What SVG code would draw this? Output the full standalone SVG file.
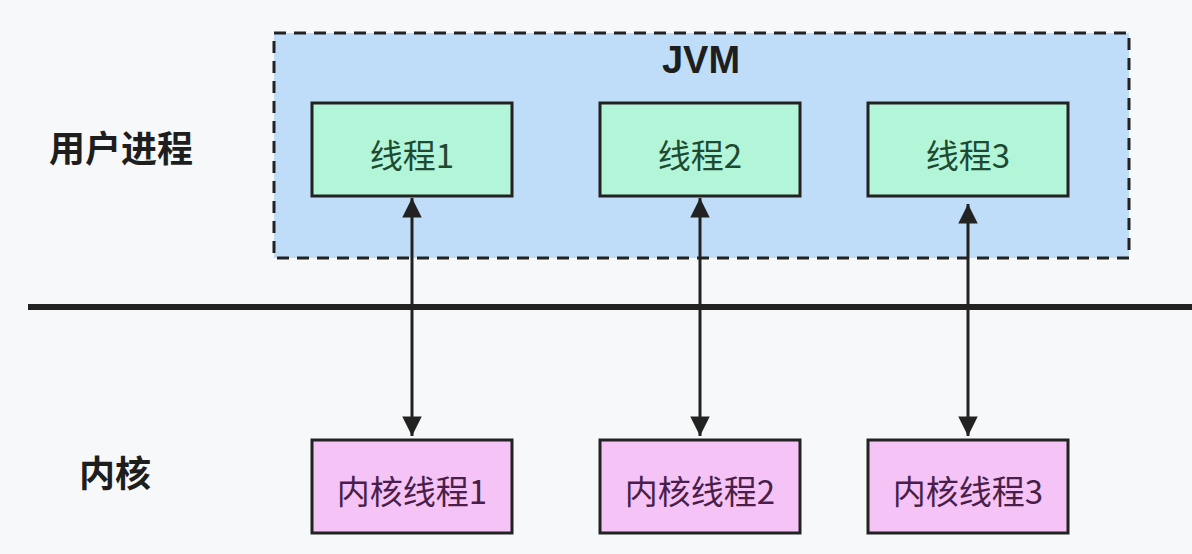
<svg xmlns="http://www.w3.org/2000/svg" width="1192" height="554" viewBox="0 0 1192 554">
<style>
.lbl{font-family:"Noto Sans CJK SC","Noto Sans",sans-serif;font-weight:bold;font-size:36px;fill:#1e1e1e;dominant-baseline:central}
.t{font-family:"Noto Sans CJK SC","Noto Sans",sans-serif;font-size:33px;text-anchor:middle;dominant-baseline:central}
.ut{fill:#b2f5d8;stroke:#222;stroke-width:3}
.kt{fill:#f5c3f6;stroke:#222;stroke-width:3}
.conn{stroke:#222;stroke-width:3;fill:none;marker-start:url(#ah);marker-end:url(#ah)}
</style>
<defs>
<marker id="ah" viewBox="0 0 10 10" refX="10" refY="5" markerWidth="7.5" markerHeight="6.5" orient="auto-start-reverse" markerUnits="strokeWidth"><path d="M0,0 L10,5 L0,10 z" fill="#222"/></marker>
</defs>
<rect width="1192" height="554" fill="#f7f8fa"/>
<g id="jvm">
<rect x="274" y="33" width="855" height="225" fill="#bfddf8" stroke="#222" stroke-width="3" stroke-dasharray="12 8"/>
<text x="701" y="60" text-anchor="middle" dominant-baseline="central" style="font-family:'Liberation Sans',sans-serif;font-weight:bold;font-size:38px;fill:#1e1e1e">JVM</text>
</g>
<g id="boundary"><line x1="28" y1="307" x2="1192" y2="307" stroke="#222" stroke-width="6"/></g>
<g id="label-user"><text x="49" y="146" class="lbl">用户进程</text></g>
<g id="label-kernel"><text x="79" y="471" class="lbl">内核</text></g>
<g id="t1"><rect x="312" y="103" width="200" height="93" class="ut"/><text x="412" y="154" class="t" fill="#1e4a32">线程1</text></g>
<g id="t2"><rect x="600" y="103" width="200" height="93" class="ut"/><text x="700" y="154" class="t" fill="#1e4a32">线程2</text></g>
<g id="t3"><rect x="868" y="103" width="200" height="93" class="ut"/><text x="968" y="154" class="t" fill="#1e4a32">线程3</text></g>
<g id="k1"><rect x="312" y="440" width="200" height="93" class="kt"/><text x="412" y="490" class="t" fill="#4a1e4a">内核线程1</text></g>
<g id="k2"><rect x="600" y="440" width="200" height="93" class="kt"/><text x="700" y="490" class="t" fill="#4a1e4a">内核线程2</text></g>
<g id="k3"><rect x="868" y="440" width="200" height="93" class="kt"/><text x="968" y="490" class="t" fill="#4a1e4a">内核线程3</text></g>
<g id="connectors">
<line x1="412" y1="198" x2="412" y2="436" class="conn"/>
<line x1="700" y1="198" x2="700" y2="436" class="conn"/>
<line x1="968" y1="204" x2="968" y2="436" class="conn"/>
</g>
</svg>
